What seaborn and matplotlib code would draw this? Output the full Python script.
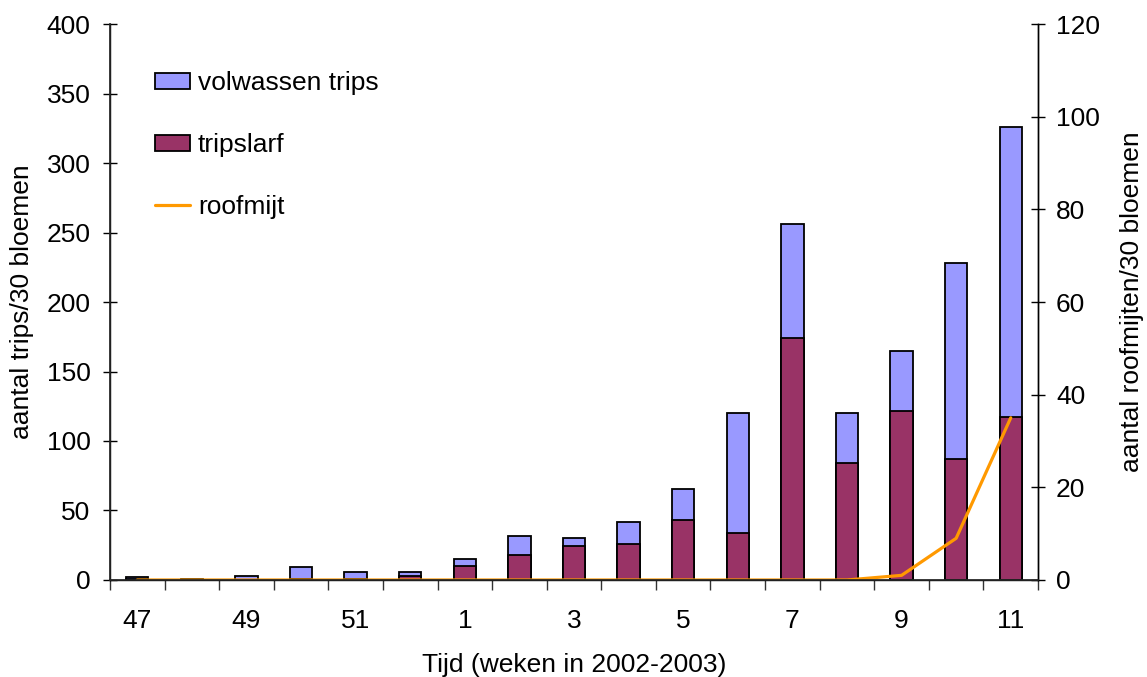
import numpy as np
import pandas as pd
import matplotlib
matplotlib.use("Agg")
import matplotlib.pyplot as plt
import seaborn as sns
from matplotlib.patches import Patch
from matplotlib.lines import Line2D

# Week numbers (2002-2003)
weeks = ["47", "48", "49", "50", "51", "52", "1", "2", "3", "4", "5", "6", "7", "8", "9", "10", "11"]
# Total thrips (adults + larvae) per 30 flowers
trips_totaal = [2, 1, 3, 9, 6, 6, 15, 32, 30, 41.5, 65.5, 120, 256, 120, 165, 228, 326]
# Thrips larvae per 30 flowers
tripslarf = [0.5, 0, 0, 1, 1, 3, 10, 18, 24.5, 26, 43, 34, 174, 84, 121.5, 87, 117.5]
# Predatory mites per 30 flowers
roofmijt = [0, 0, 0, 0, 0, 0, 0, 0, 0, 0, 0, 0, 0, 0, 1, 9, 35]

tick_labels = ["47", "49", "51", "1", "3", "5", "7", "9", "11"]

sns.set_theme(style="white")
plt.rcParams["font.family"] = ["Liberation Sans", "DejaVu Sans"]
plt.rcParams["text.color"] = "black"
plt.rcParams["axes.labelcolor"] = "black"

FS = 19
col_adult = "#9999FF"
col_larva = "#993366"
col_mite = "#FF9900"

df = pd.DataFrame({"week": weeks, "totaal": trips_totaal, "larf": tripslarf, "mijt": roofmijt})
df["pos"] = np.arange(len(df))

fig = plt.figure(figsize=(11.47, 6.77), dpi=100)
ax = fig.add_axes([0.0959, 0.1433, 0.8091, 0.8212])

sns.barplot(data=df, x="week", y="totaal", order=weeks, color=col_adult,
            edgecolor="black", linewidth=1.3, width=0.41, saturation=1, ax=ax)
sns.barplot(data=df, x="week", y="larf", order=weeks, color=col_larva,
            edgecolor="black", linewidth=1.3, width=0.41, saturation=1, ax=ax)

ax.set_xlim(-0.5, len(weeks) - 0.5)
ax.set_ylim(0, 400)
ax.set_yticks(np.arange(0, 401, 50))
ax.set_xticks(np.arange(0, len(weeks), 2))
ax.set_xticklabels(tick_labels, fontsize=FS)
ax.set_xticks(np.arange(-0.5, len(weeks), 1), minor=True)
ax.tick_params(axis="x", which="major", length=0, pad=21, colors="black")
ax.tick_params(axis="x", which="minor", length=7, direction="out", width=1, color="#333333", bottom=True)
ax.tick_params(axis="y", labelsize=FS, direction="inout", length=10, width=1, left=True, colors="black", pad=9)
ax.set_xlabel("Tijd (weken in 2002-2003)", fontsize=FS, labelpad=14)
ax.set_ylabel("aantal trips/30 bloemen", fontsize=FS, labelpad=9)

for side in ["left", "bottom", "right"]:
    ax.spines[side].set_color("black")
    ax.spines[side].set_linewidth(1)
ax.spines["top"].set_visible(False)

ax2 = ax.twinx()
sns.lineplot(data=df, x="pos", y="mijt", color=col_mite, linewidth=2.3, ax=ax2)
ax2.set_ylim(0, 120)
ax2.set_yticks(np.arange(0, 121, 20))
ax2.tick_params(axis="y", labelsize=FS, direction="inout", length=10, width=1, right=True, colors="black", pad=8)
ax2.set_ylabel("aantal roofmijten/30 bloemen", fontsize=FS, labelpad=14)
ax2.set_xlabel("")
ax2.set_xlim(-0.5, len(weeks) - 0.5)
ax2.spines["top"].set_visible(False)
ax2.spines["right"].set_color("black")
ax2.spines["right"].set_linewidth(1)

handles = [
    Patch(facecolor=col_adult, edgecolor="black", linewidth=1.3, label="volwassen trips"),
    Patch(facecolor=col_larva, edgecolor="black", linewidth=1.3, label="tripslarf"),
    Line2D([0], [0], color=col_mite, linewidth=2.3, label="roofmijt"),
]
ax2.legend(handles=handles, loc="upper left", bbox_to_anchor=(0.0485, 0.915),
           frameon=False, fontsize=FS, labelspacing=1.43, handlelength=1.33,
           handleheight=0.55, handletextpad=0.3, borderaxespad=0, borderpad=0)

fig.savefig("out.png", dpi=100)
